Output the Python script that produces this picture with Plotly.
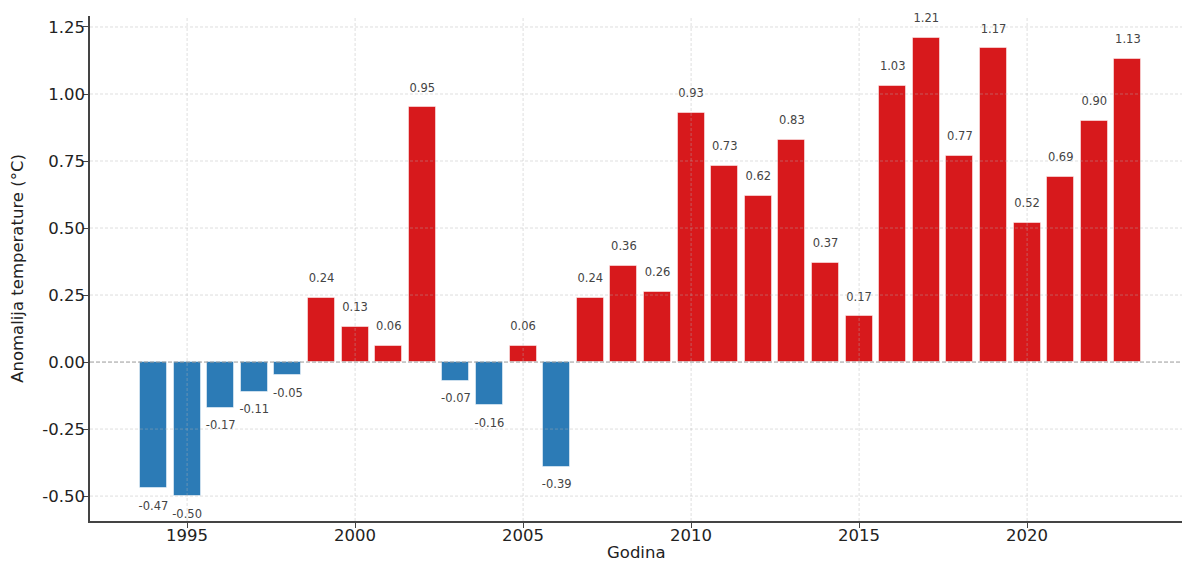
import plotly.graph_objects as go

years = list(range(1994, 2024))
anomalies = [-0.47, -0.50, -0.17, -0.11, -0.05, 0.24, 0.13, 0.06, 0.95, -0.07,
             -0.16, 0.06, -0.39, 0.24, 0.36, 0.26, 0.93, 0.73, 0.62, 0.83,
             0.37, 0.17, 1.03, 1.21, 0.77, 1.17, 0.52, 0.69, 0.90, 1.13]
y_ticks = [-0.50, -0.25, 0.00, 0.25, 0.50, 0.75, 1.00, 1.25]
x_ticks = [1995, 2000, 2005, 2010, 2015, 2020]

RED = "#d7191c"
BLUE = "#2c7bb6"
GRID = "rgba(176,176,176,0.42)"
colors = [RED if v >= 0 else BLUE for v in anomalies]
label_offset = 0.07
label_y = [v + label_offset if v >= 0 else v - label_offset for v in anomalies]
labels = [f"{v:.2f}" for v in anomalies]

fig = go.Figure()
fig.add_trace(go.Bar(
    x=years, y=anomalies, width=0.8,
    marker=dict(color=colors, line=dict(color="rgba(255,255,255,0.5)", width=1)),
    showlegend=False, hoverinfo="x+y",
))
fig.add_trace(go.Scatter(
    x=years, y=label_y, mode="text", text=labels,
    textfont=dict(size=11.5, color="#444444", family="DejaVu Sans"),
    showlegend=False, hoverinfo="skip", cliponaxis=False,
))
# grid drawn above the bars, as in the reference
for t in x_ticks:
    fig.add_vline(x=t, line=dict(color=GRID, width=1, dash="3px,2px"), layer="above")
for t in y_ticks:
    if t != 0:
        fig.add_hline(y=t, line=dict(color=GRID, width=1, dash="3px,2px"), layer="above")
fig.add_hline(y=0, line=dict(color="#999999", width=1, dash="4px,2px"), layer="above")

fig.add_annotation(text="Godina", xref="paper", yref="paper", x=0.5, y=0,
                   yshift=-31, yanchor="middle", showarrow=False,
                   font=dict(size=16.5, color="#222222"))

fig.update_layout(
    width=1182, height=561,
    margin=dict(l=90, r=0, t=16, b=40, autoexpand=False),
    plot_bgcolor="white", paper_bgcolor="white",
    font=dict(family="DejaVu Sans", color="#222222", size=16),
    bargap=0,
)
axis_common = dict(
    showgrid=False,
    showline=True, linecolor="#444444", linewidth=1.5, mirror=False,
    ticks="outside", ticklen=5, tickcolor="#444444", zeroline=False,
    tickfont=dict(size=16.5), automargin=False,
)
fig.update_xaxes(
    range=[1992.11, 2024.61], tickvals=x_ticks, ticktext=[str(t) for t in x_ticks],
    ticklabelstandoff=-7,
    **axis_common,
)
fig.update_yaxes(
    range=[-0.593, 1.291], tickvals=y_ticks, ticktext=[f"{t:.2f}" for t in y_ticks],
    title=dict(text="Anomalija temperature (°C)", standoff=14, font=dict(size=16.5)),
    ticklabelstandoff=-5,
    **axis_common,
)

fig.write_html("out.html", post_script="document.body.style.margin='0';",
               config={"displayModeBar": False})
